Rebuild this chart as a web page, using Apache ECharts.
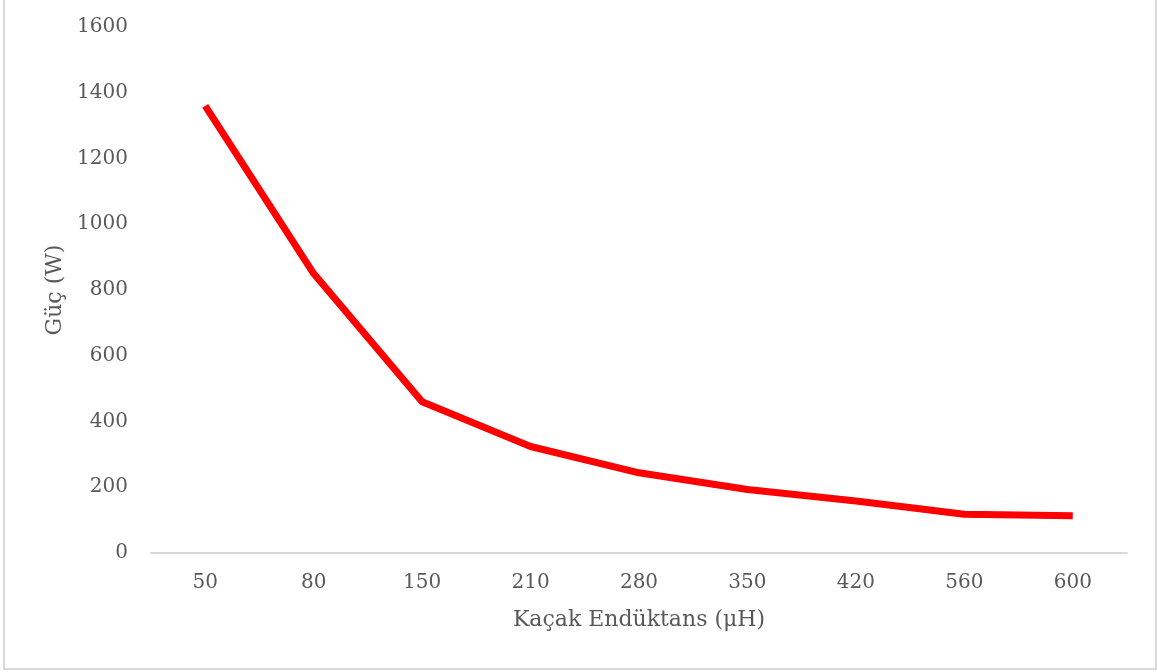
<!DOCTYPE html>
<html>
<head>
<meta charset="utf-8">
<script src="https://cdn.jsdelivr.net/npm/echarts@6/dist/echarts.min.js"></script>
<style>
  html, body { margin: 0; padding: 0; background: #ffffff; }
  #frame {
    position: absolute; left: 3px; top: -2px; width: 1150px; height: 668px;
    border: 2px solid #d9d9d9; background: #ffffff;
  }
  #chart { position: absolute; left: 0; top: 0; width: 1157px; height: 672px; }
</style>
</head>
<body>
<div id="frame"></div>
<div id="chart"></div>
<script>
// Leakage inductance (µH) categories and measured power (W)
const inductances = ['50', '80', '150', '210', '280', '350', '420', '560', '600'];
const powerW = [1360, 850, 460, 324, 244, 193, 158, 118, 113];
const yTicks = { min: 0, max: 1600, interval: 200 };

const xName = 'Kaçak Endüktans (μH)';
const yName = 'Güç (W)';

const fontFamily = '"DejaVu Serif", "Liberation Serif", serif';
const textColor = '#595959';

const chart = echarts.init(document.getElementById('chart'), null, { renderer: 'canvas' });
chart.setOption({
  backgroundColor: 'transparent',
  animation: false,
  grid: { left: 151, right: 30, top: 27, bottom: 119, containLabel: false },
  xAxis: {
    type: 'category',
    data: inductances,
    boundaryGap: true,
    name: xName,
    nameLocation: 'middle',
    nameGap: 56,
    nameTextStyle: { fontFamily, fontSize: 22, color: textColor },
    axisLine: { show: true, lineStyle: { color: '#d9d9d9', width: 2 } },
    axisTick: { show: false },
    axisLabel: { fontFamily, fontSize: 20, color: textColor, margin: 20 },
    splitLine: { show: false }
  },
  yAxis: {
    type: 'value',
    min: yTicks.min,
    max: yTicks.max,
    interval: yTicks.interval,
    name: yName,
    nameLocation: 'middle',
    nameGap: 83,
    nameTextStyle: { fontFamily, fontSize: 22, color: textColor },
    axisLine: { show: false },
    axisTick: { show: false },
    axisLabel: {
      fontFamily, fontSize: 20, color: textColor, margin: 23,
      formatter: (v) => String(v)
    },
    splitLine: { show: false }
  },
  series: [{
    type: 'line',
    data: powerW,
    showSymbol: false,
    symbol: 'none',
    lineStyle: { color: '#ff0000', width: 7, cap: 'butt', join: 'round' },
    itemStyle: { color: '#ff0000' }
  }]
});
</script>
</body>
</html>
